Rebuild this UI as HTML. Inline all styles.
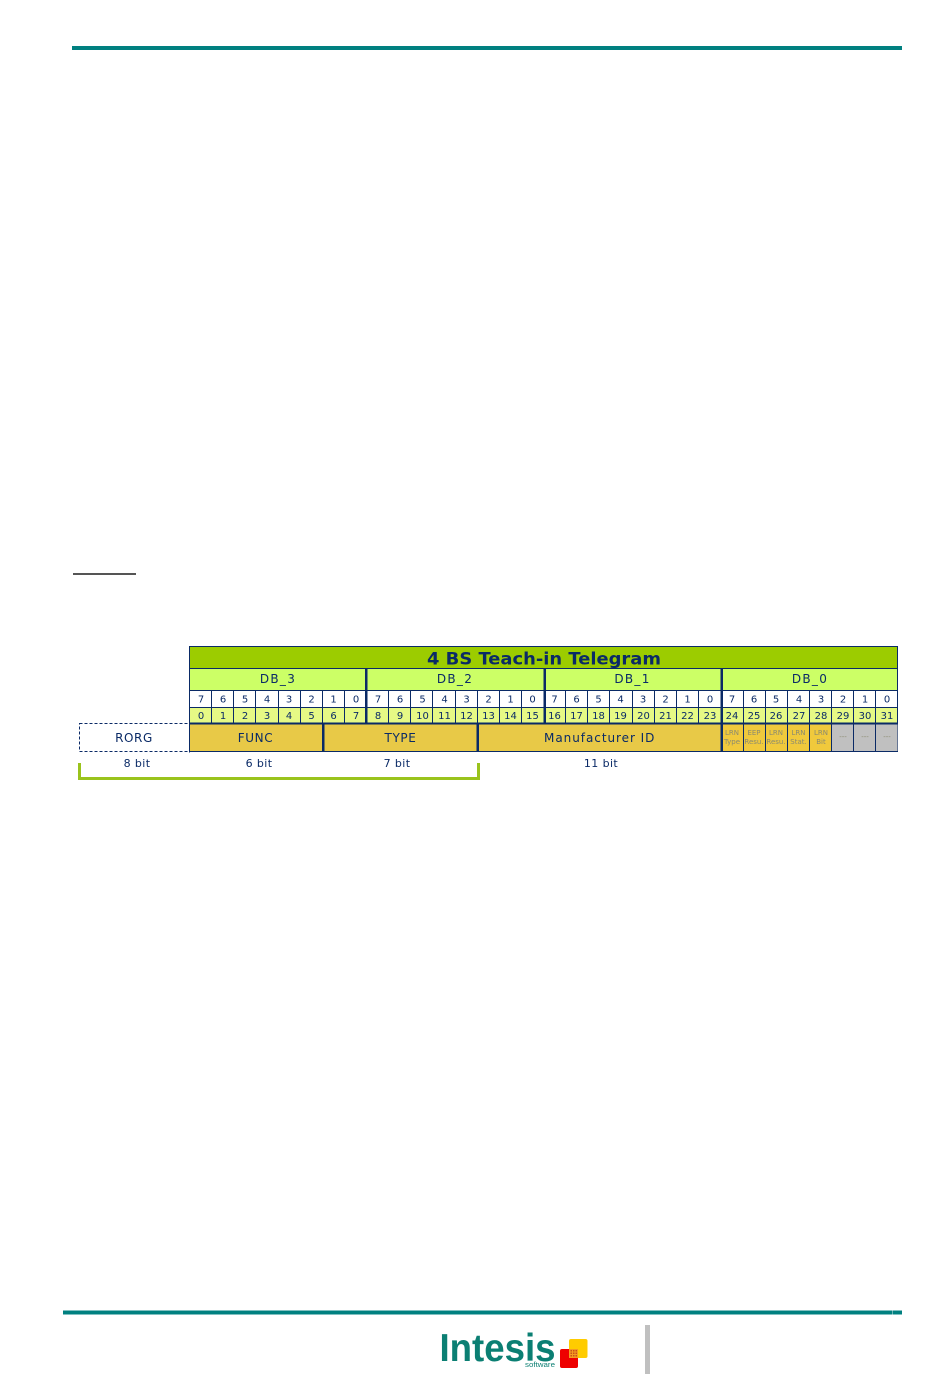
<!DOCTYPE html>
<html>
<head>
<meta charset="utf-8">
<style>
html,body{margin:0;padding:0;background:#fff;}
body{width:950px;height:1387px;overflow:hidden;position:relative;}
svg{position:absolute;left:0;top:0;}
text{font-family:"DejaVu Sans","Liberation Sans",sans-serif;fill:#0a2a66;text-anchor:middle;}
.n{font-size:10px;}
.f{font-size:12px;letter-spacing:.6px;}
.db{font-size:12px;letter-spacing:1.3px;}
.s{font-size:7px;fill:#8a8a70;}
.b{font-size:11px;letter-spacing:.4px;fill:#0a2a66;}
</style>
</head>
<body>
<svg width="950" height="1387" viewBox="0 0 950 1387" xmlns="http://www.w3.org/2000/svg">
<!-- page rules -->
<rect x="72" y="46" width="830" height="4" fill="#008080"/>
<rect x="73" y="573" width="63" height="2" fill="#555"/>
<rect x="63" y="1310.500" width="839" height="4" fill="#008080"/>
<rect x="892" y="1310.500" width="1" height="4" fill="#6bb5b5"/>

<!-- table backgrounds -->
<rect x="189.500" y="646.500" width="708" height="22" fill="#9ccc00" stroke="#0a2a66"/>
<rect x="189.500" y="668.500" width="708" height="22" fill="#ccff66" stroke="#0a2a66"/>
<rect x="189.500" y="690.500" width="708" height="17" fill="#fff" stroke="#0a2a66"/>
<rect x="189.500" y="707.500" width="708" height="16" fill="#e6f985" stroke="#0a2a66"/>
<rect x="189.500" y="723.500" width="708" height="28" fill="#e8c947" stroke="#0a2a66"/>
<rect x="721" y="724" width="110.500" height="27" fill="#f0c93c"/>
<rect x="831.500" y="724" width="66" height="27" fill="#c0c0c0"/>

<!-- vertical cell lines -->
<g stroke="#0a2a66" stroke-width="1">
<path d="M211.500 690V723M233.500 690V723M255.500 690V723M278.500 690V723M300.500 690V723M322.500 690V723M344.500 690V723
M388.500 690V723M410.500 690V723M432.500 690V723M455.500 690V723M477.500 690V723M499.500 690V723M521.500 690V723
M565.500 690V723M587.500 690V723M609.500 690V723M632.500 690V723M654.500 690V723M676.500 690V723M698.500 690V723
M743.500 690V751M765.500 690V751M787.500 690V751M809.500 690V751M831.500 690V751M853.500 690V751M875.500 690V751"/>
</g>
<!-- thick dividers -->
<g fill="#0a2a66">
<rect x="365" y="668" width="2.500" height="56"/>
<rect x="543.500" y="668" width="2.500" height="56"/>
<rect x="720.500" y="668" width="2.500" height="84"/>
<rect x="322" y="724" width="2.500" height="28"/>
<rect x="476.500" y="724" width="2.500" height="28"/>
<rect x="189" y="722.500" width="709" height="2"/>
</g>

<!-- title -->
<text x="544" y="664.500" style="font-size:17px;font-weight:bold" textLength="234" lengthAdjust="spacingAndGlyphs">4 BS Teach-in Telegram</text>
<text class="db" x="278" y="683">DB_3</text>
<text class="db" x="455" y="683">DB_2</text>
<text class="db" x="632.500" y="683">DB_1</text>
<text class="db" x="810" y="683">DB_0</text>

<!-- bit row -->
<g>
<text class="n" x="201" y="702.500">7</text><text class="n" x="223" y="702.500">6</text><text class="n" x="245" y="702.500">5</text><text class="n" x="267" y="702.500">4</text><text class="n" x="289" y="702.500">3</text><text class="n" x="311.500" y="702.500">2</text><text class="n" x="333.500" y="702.500">1</text><text class="n" x="356" y="702.500">0</text>
<text class="n" x="378" y="702.500">7</text><text class="n" x="400" y="702.500">6</text><text class="n" x="422.500" y="702.500">5</text><text class="n" x="444.500" y="702.500">4</text><text class="n" x="466.500" y="702.500">3</text><text class="n" x="488.500" y="702.500">2</text><text class="n" x="510.500" y="702.500">1</text><text class="n" x="532.500" y="702.500">0</text>
<text class="n" x="554.500" y="702.500">7</text><text class="n" x="576.500" y="702.500">6</text><text class="n" x="598.500" y="702.500">5</text><text class="n" x="620.500" y="702.500">4</text><text class="n" x="643" y="702.500">3</text><text class="n" x="665.500" y="702.500">2</text><text class="n" x="687.500" y="702.500">1</text><text class="n" x="710" y="702.500">0</text>
<text class="n" x="732" y="702.500">7</text><text class="n" x="754" y="702.500">6</text><text class="n" x="776" y="702.500">5</text><text class="n" x="799" y="702.500">4</text><text class="n" x="821" y="702.500">3</text><text class="n" x="843" y="702.500">2</text><text class="n" x="865" y="702.500">1</text><text class="n" x="887" y="702.500">0</text>
</g>
<!-- number row -->
<g>
<text class="n" x="201" y="719">0</text><text class="n" x="223" y="719">1</text><text class="n" x="245" y="719">2</text><text class="n" x="267" y="719">3</text><text class="n" x="289" y="719">4</text><text class="n" x="311.500" y="719">5</text><text class="n" x="333.500" y="719">6</text><text class="n" x="356" y="719">7</text>
<text class="n" x="378" y="719">8</text><text class="n" x="400" y="719">9</text><text class="n" x="422.500" y="719">10</text><text class="n" x="444.500" y="719">11</text><text class="n" x="466.500" y="719">12</text><text class="n" x="488.500" y="719">13</text><text class="n" x="510.500" y="719">14</text><text class="n" x="532.500" y="719">15</text>
<text class="n" x="554.500" y="719">16</text><text class="n" x="576.500" y="719">17</text><text class="n" x="598.500" y="719">18</text><text class="n" x="620.500" y="719">19</text><text class="n" x="643.500" y="719">20</text><text class="n" x="665.500" y="719">21</text><text class="n" x="687.500" y="719">22</text><text class="n" x="710" y="719">23</text>
<text class="n" x="732" y="719">24</text><text class="n" x="754" y="719">25</text><text class="n" x="776" y="719">26</text><text class="n" x="799" y="719">27</text><text class="n" x="821" y="719">28</text><text class="n" x="843" y="719">29</text><text class="n" x="865" y="719">30</text><text class="n" x="887" y="719">31</text>
</g>

<!-- field row -->
<rect x="79.500" y="723.500" width="110" height="28" fill="#fff" stroke="#0a2a66" stroke-dasharray="3 2"/>
<rect x="189" y="722.500" width="1" height="30" fill="#0a2a66"/>
<text class="f" x="134" y="742">RORG</text>
<text class="f" x="255.500" y="742">FUNC</text>
<text class="f" x="400.500" y="742">TYPE</text>
<text class="f" x="599.500" y="742" textLength="111">Manufacturer ID</text>

<text class="s" x="732" y="735">LRN</text><text class="s" x="732" y="744">Type</text>
<text class="s" x="754" y="735">EEP</text><text class="s" x="754" y="744">Resu.</text>
<text class="s" x="776" y="735">LRN</text><text class="s" x="776" y="744">Resu.</text>
<text class="s" x="798.500" y="735">LRN</text><text class="s" x="798.500" y="744">Stat.</text>
<text class="s" x="821" y="735">LRN</text><text class="s" x="821" y="744">Bit</text>
<text class="s" x="843" y="739">---</text>
<text class="s" x="865" y="739">---</text>
<text class="s" x="887" y="739">---</text>

<!-- bit size labels -->
<text class="b" x="137" y="767">8 bit</text>
<text class="b" x="259" y="767">6 bit</text>
<text class="b" x="397" y="767">7 bit</text>
<text class="b" x="601" y="767">11 bit</text>

<!-- bracket -->
<path d="M79.500 763V778.500H478.500V763" fill="none" stroke="#9ac31c" stroke-width="3"/>

<!-- logo -->
<text x="497.500" y="1361" style="font-family:'Liberation Sans',sans-serif;font-weight:bold;font-size:39px;fill:#0b7f73" textLength="116" lengthAdjust="spacingAndGlyphs">Intesis</text>
<text x="540" y="1367" style="font-family:'Liberation Sans',sans-serif;font-size:7px;fill:#0b7f73" textLength="30" lengthAdjust="spacingAndGlyphs">software</text>
<rect x="569" y="1339" width="18.500" height="19" rx="2" fill="#ffcc00"/>
<rect x="560" y="1349" width="18" height="19" rx="2" fill="#ee0000"/>
<rect x="569" y="1349" width="9" height="9" fill="#f59a20"/>
<g fill="#c8501a">
<rect x="570.500" y="1350" width="1.500" height="1.500"/><rect x="573" y="1350" width="1.500" height="1.500"/><rect x="575.500" y="1350" width="1.500" height="1.500"/>
<rect x="570.500" y="1352.500" width="1.500" height="1.500"/><rect x="573" y="1352.500" width="1.500" height="1.500"/><rect x="575.500" y="1352.500" width="1.500" height="1.500"/>
<rect x="570.500" y="1355" width="1.500" height="1.500"/><rect x="573" y="1355" width="1.500" height="1.500"/><rect x="575.500" y="1355" width="1.500" height="1.500"/>
</g>
<rect x="645" y="1325" width="5" height="49" fill="#c0c0c0"/>
</svg>
</body>
</html>
